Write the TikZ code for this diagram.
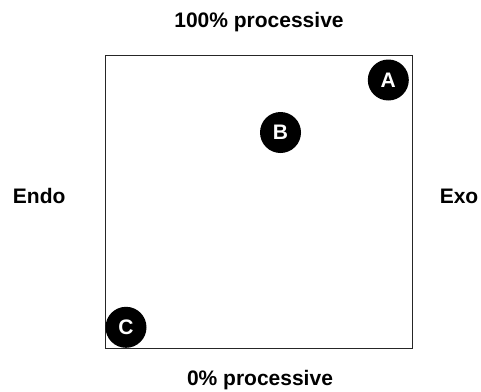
\documentclass[tikz,border=0pt]{standalone}
\usepackage{fontspec}
\setmainfont{Liberation Sans}
\begin{document}
\begin{tikzpicture}[x=1pt,y=-1pt,
  lbl/.style={font=\fontsize{21}{24}\selectfont\bfseries, inner sep=0pt, anchor=base},
  dot/.style={circle, fill=black, minimum size=41pt, inner sep=0pt, text=white, font=\fontsize{21}{24}\selectfont\bfseries}]
\useasboundingbox (0,0) rectangle (481,391);
\node[draw=black!85, line width=1pt, minimum width=306.5pt, minimum height=293pt, inner sep=0pt] (box) at (259,201.8) {};
\node[dot] (A) at (388.3,80) {A};
\node[dot] (B) at (280.5,132.5) {B};
\node[dot] (C) at (126,327.3) {C};
\node[lbl] (top) at (259,27) {100\% processive};
\node[lbl] (bot) at (260,385) {0\% processive};
\node[lbl] (endo) at (39.2,203) {Endo};
\node[lbl] (exo) at (459,203) {Exo};
\end{tikzpicture}
\end{document}
